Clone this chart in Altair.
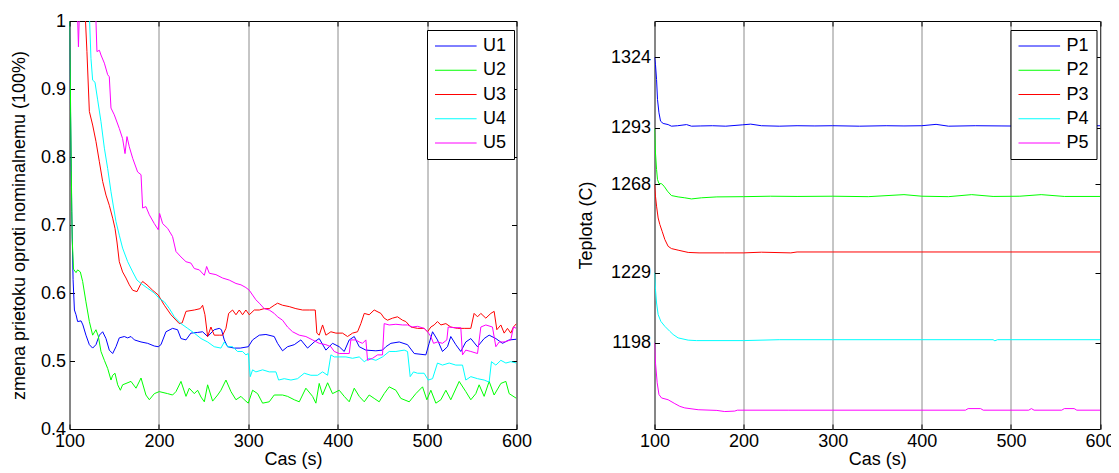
import altair as alt
import pandas as pd

FONT = "Liberation Sans"

# ---------------- left panel data: relative flow U1..U5 ----------------
# None marks a place where the curve leaves the plot through the top (value above 1)
u_names = ["U1", "U2", "U3", "U4", "U5"]
p_names = ["P1", "P2", "P3", "P4", "P5"]
colors = ["#0000ff", "#00ff00", "#ff0000", "#00ffff", "#ff00ff"]

u1_t = [100, 101, 102.5, 104, 105.5, 107.3, 109.1, 112.9, 115, 118.4, 122.2, 125.9, 129.6, 133.4, 137.1, 140.8,
        144.5, 148.3, 152, 155.7, 161.3, 165, 168.8, 172.6, 180, 187.4, 194.9, 199.3, 202.3, 207.9, 215.3, 220.9,
        224.7, 230.3, 235.8, 243.3, 248.9, 254.5, 261.9, 267.5, 270, 273.1, 276.8, 284.3, 291, 300, 304.8, 312.3,
        319.7, 329, 332.7, 338.3, 343.9, 351.4, 358.8, 366.3, 373.7, 379.3, 386.8, 394.2, 401.7, 407.3, 412.9,
        418.5, 424.1, 431.5, 442.7, 450.1, 453.9, 459.5, 468.8, 478.1, 485.6, 498.6, 502.3, 506.1, 511.6, 517.2,
        522.8, 526.5, 532.1, 537.7, 543.3, 548.9, 556.3, 563.8, 569.4, 576.9, 584.3, 591.8, 600]
u1_v = [1.0, 0.88, 0.72, 0.62, 0.575, 0.568, 0.558, 0.559, 0.553, 0.538, 0.524, 0.519, 0.524, 0.538, 0.543, 0.533,
        0.516, 0.511, 0.521, 0.534, 0.536, 0.534, 0.536, 0.531, 0.528, 0.526, 0.522, 0.521, 0.524, 0.543, 0.548,
        0.546, 0.533, 0.531, 0.541, 0.542, 0.543, 0.536, 0.546, 0.548, 0.546, 0.531, 0.521, 0.519, 0.519, 0.521,
        0.531, 0.538, 0.539, 0.536, 0.526, 0.515, 0.521, 0.524, 0.531, 0.519, 0.528, 0.533, 0.516, 0.526, 0.521,
        0.514, 0.531, 0.536, 0.521, 0.516, 0.515, 0.516, 0.521, 0.526, 0.528, 0.524, 0.511, 0.509, 0.526, 0.543,
        0.531, 0.514, 0.521, 0.536, 0.524, 0.514, 0.528, 0.533, 0.521, 0.533, 0.538, 0.533, 0.526, 0.531, 0.532]

u2_t = [100, 101, 102, 103, 104.5, 107.3, 109.1, 112.1, 114.7, 118.4, 122.2, 125.9, 129.6, 132.3, 135.2, 139,
        142.7, 146.4, 148.3, 150.9, 153.9, 156.9, 159.4, 163.2, 168.8, 174.4, 180, 185.5, 189.3, 194.9, 200.4,
        209.8, 215.3, 219.1, 224.7, 230.3, 234, 239.6, 243.3, 247.1, 250.8, 254.5, 260.1, 265.7, 269.4, 275,
        280.6, 286.2, 291.8, 295.5, 300, 304.8, 310.4, 316, 323.4, 329, 338.3, 343.9, 351.4, 357, 364.4, 371.9,
        375.6, 379.3, 383.1, 388.7, 394.2, 401.7, 407.3, 412.9, 418.5, 424.1, 429.7, 435.2, 440.8, 446.4, 452,
        457.6, 465.1, 470.6, 480, 487.4, 494.9, 499.7, 504.2, 509.8, 515.4, 521, 526.5, 535.9, 543.3, 548.9,
        554.5, 558.2, 563.8, 569.4, 575, 582.5, 588.1, 591.8, 600]
u2_v = [1.0, 0.9, 0.78, 0.68, 0.635, 0.63, 0.634, 0.631, 0.617, 0.587, 0.558, 0.538, 0.546, 0.536, 0.514, 0.501,
        0.489, 0.472, 0.479, 0.482, 0.465, 0.457, 0.465, 0.467, 0.470, 0.46, 0.475, 0.45, 0.443, 0.452, 0.455,
        0.452, 0.45, 0.455, 0.47, 0.448, 0.46, 0.452, 0.457, 0.447, 0.44, 0.465, 0.441, 0.45, 0.457, 0.472,
        0.455, 0.443, 0.448, 0.443, 0.438, 0.457, 0.452, 0.438, 0.44, 0.45, 0.45, 0.448, 0.443, 0.44, 0.46, 0.448,
        0.438, 0.467, 0.45, 0.468, 0.452, 0.457, 0.448, 0.44, 0.46, 0.448, 0.44, 0.45, 0.445, 0.44, 0.452,
        0.462, 0.457, 0.445, 0.44, 0.452, 0.462, 0.443, 0.457, 0.438, 0.443, 0.457, 0.443, 0.47, 0.455, 0.443,
        0.452, 0.465, 0.448, 0.47, 0.45, 0.467, 0.47, 0.452, 0.445]

u3_t = [117.9, 119.5, 122.2, 125.9, 129.6, 133.4, 137.1, 140.8, 144.5, 148.3, 150.9, 153.1, 155.7, 159.4,
        163.2, 166.9, 170.7, 175.5, 179.2, 181.8, 186.7, 193, 199.3, 206.1, 213.5, 222.8, 226, 230.3, 239.6, 246.3,
        248.9, 251.5, 254.5, 258.2, 261.9, 267.5, 271.3, 275, 278, 282.4, 286.2, 289.9, 293.6, 297.3, 301.1, 306.7,
        312.3, 317.8, 323.4, 329, 332.7, 338.3, 345.8, 353.2, 360.7, 368.2, 374.9, 376.7, 379.3, 383.1, 386.8,
        392.4, 398, 405.4, 411, 416.6, 422.2, 425.9, 429.7, 435.2, 440.8, 448.3, 452, 455.7, 461.3, 466.9, 472.5,
        476.2, 481.8, 489.3, 496.7, 500.5, 504.2, 507.9, 511.6, 515.4, 521, 526.5, 534, 541.5, 548.9, 552.6,
        556.4, 560.1, 565.7, 571.3, 575, 578, 582.5, 586.2, 589.9, 593.6, 596.6, 600]
u3_v = [1.0, 0.955, 0.867, 0.847, 0.823, 0.793, 0.764, 0.744, 0.729, 0.71, 0.695, 0.675, 0.646, 0.631,
        0.622, 0.612, 0.604, 0.602, 0.612, 0.617, 0.612, 0.604, 0.597, 0.582, 0.568, 0.555, 0.556, 0.573, 0.575,
        0.577, 0.582, 0.568, 0.536, 0.55, 0.538, 0.538, 0.538, 0.548, 0.57, 0.575, 0.568, 0.575, 0.568, 0.575,
        0.568, 0.575, 0.575, 0.577, 0.577, 0.582, 0.585, 0.582, 0.58, 0.577, 0.575, 0.575, 0.575, 0.541, 0.538,
        0.553, 0.538, 0.543, 0.541, 0.541, 0.536, 0.541, 0.543, 0.555, 0.57, 0.568, 0.575, 0.57, 0.563, 0.56,
        0.563, 0.565, 0.56, 0.558, 0.55, 0.548, 0.548, 0.543, 0.55, 0.553, 0.558, 0.553, 0.555, 0.55, 0.548,
        0.548, 0.548, 0.57, 0.565, 0.57, 0.563, 0.57, 0.573, 0.546, 0.553, 0.541, 0.548, 0.541, 0.55, 0.555]

u4_t = [122.5, 124, 125.9, 128.5, 131.5, 135.2, 139, 142.7, 146.4, 149.4, 152, 155.7, 159.4, 165.1,
        170.7, 175.5, 180, 187.4, 194.9, 200.4, 206.1, 211.7, 217.3, 224.7, 232.2, 239.6, 247.1, 254.5, 261.9,
        269.4, 273.1, 276.8, 282.4, 288, 293.6, 297.3, 300, 302.2, 304.8, 308.5, 316, 323.4, 330.9, 333.9, 340.2,
        347.7, 355.1, 362.6, 370, 377.5, 383.1, 388.7, 392.4, 396.1, 401.7, 409.2, 416.6, 424.1, 429.7, 435.2,
        442.7, 450.1, 457.6, 465.1, 474.4, 478.1, 481.1, 484.8, 489.3, 496.7, 501.2, 506.1, 511.6, 517.2, 524.7,
        532.1, 539.6, 543.3, 548.9, 556.4, 563.8, 569.4, 572, 576.9, 582.5, 588.1, 593.6, 600]
u4_v = [1.0, 0.945, 0.913, 0.91, 0.884, 0.852, 0.813, 0.783, 0.749, 0.725, 0.705, 0.685, 0.666, 0.646,
        0.631, 0.619, 0.614, 0.607, 0.6, 0.592, 0.587, 0.577, 0.565, 0.555, 0.548, 0.541, 0.533, 0.528, 0.521,
        0.519, 0.528, 0.521, 0.521, 0.514, 0.514, 0.509, 0.511, 0.477, 0.487, 0.484, 0.487, 0.484, 0.484, 0.472,
        0.474, 0.472, 0.474, 0.482, 0.479, 0.479, 0.484, 0.479, 0.509, 0.506, 0.506, 0.506, 0.504, 0.506, 0.499,
        0.504, 0.501, 0.506, 0.514, 0.514, 0.516, 0.514, 0.477, 0.484, 0.482, 0.482, 0.472, 0.474, 0.497, 0.494,
        0.497, 0.494, 0.494, 0.472, 0.477, 0.474, 0.472, 0.469, 0.499, 0.494, 0.501, 0.497, 0.499, 0.497]

u5_t = [100, 100.6, None, 109.2, 110, 110.8, None, 129.6, 130.7, 133.4, 135.2, 139, 142.7, 144.5, 146.4, 150.1,
        155.7, 159.4, 162.1, 164.3, 166.9, 170.7, 176.2, 180, 181.8, 185.5, 189.3, 194.9, 199.3, 200.8, 204.2,
        209.8, 215.3, 219.1, 224.7, 230.3, 235.8, 239.6, 245.2, 250.8, 253.4, 256.4, 263.8, 271.3, 278.7, 286.2,
        291.8, 297.3, 301.1, 304.8, 308.5, 312.3, 317.8, 323.4, 329, 332.7, 338.3, 343.9, 349.5, 357, 364.4, 371.9,
        379.3, 386.8, 392.4, 396.1, 401.7, 412.9, 414.7, 420.3, 424.1, 427.8, 431.5, 433.4, 439, 444.6, 450.1,
        452, 457.6, 465.1, 472.5, 478.1, 483.7, 489.3, 496.7, 500.5, 504.2, 507.2, 511.6, 517.2, 522.1, 523.6,
        530.3, 537.7, 539.6, 543.3, 548.9, 556.4, 560.1, 565.7, 573.1, 576.9, 580.6, 586.2, 593.6, 596.6, 600]
u5_v = [1.0, 1.0, None, 1.0, 0.962, 1.0, None, 1.0, 0.955, 0.957, 0.95, 0.938, 0.921, 0.918, 0.872, 0.862,
        0.842, 0.827, 0.805, 0.83, 0.815, 0.798, 0.778, 0.774, 0.725, 0.727, 0.715, 0.702, 0.693, 0.717, 0.702,
        0.695, 0.683, 0.661, 0.653, 0.646, 0.644, 0.636, 0.634, 0.626, 0.639, 0.629, 0.627, 0.622, 0.619, 0.614,
        0.612, 0.608, 0.604, 0.597, 0.59, 0.585, 0.577, 0.575, 0.57, 0.565, 0.56, 0.55, 0.543, 0.538, 0.536, 0.531,
        0.526, 0.524, 0.521, 0.514, 0.511, 0.511, 0.531, 0.531, 0.528, 0.526, 0.531, 0.501, 0.504, 0.509, 0.509,
        0.555, 0.553, 0.554, 0.553, 0.553, 0.55, 0.551, 0.548, 0.543, 0.536, 0.526, 0.528, 0.526, 0.531, 0.55,
        0.549, 0.549, 0.509, 0.516, 0.514, 0.511, 0.55, 0.553, 0.55, 0.521, 0.528, 0.528, 0.531, 0.55, 0.548]

# ---------------- right panel data: temperatures P1..P5 ----------------
p1_t = [100, 101.1, 102.3, 103.4, 105, 106.8, 109.7, 115.3, 119, 126, 136, 141.5, 152, 165, 180, 199, 208, 220,
        240, 260, 280, 300, 330, 360, 380, 400, 416, 430, 460, 490, 520, 560, 600]
p1_v = [1324, 1320.8, 1314.2, 1305.3, 1299.5, 1295.8, 1294.8, 1294.3, 1293.6, 1293.8, 1294.3, 1293.6, 1293.7,
        1293.8, 1293.6, 1294.2, 1294.5, 1293.8, 1293.6, 1293.8, 1293.7, 1293.8, 1293.6, 1293.8, 1293.7, 1293.8,
        1294.4, 1293.6, 1293.8, 1293.7, 1293.6, 1293.7, 1293.8]
p2_t = [100, 101.1, 102.3, 103.4, 105, 107.9, 110.8, 114.6, 119, 126.5, 134, 141.5, 152.7, 170, 200, 230, 260,
        300, 340, 380, 400, 430, 456, 480, 510, 534, 560, 600]
p2_v = [1292.5, 1281.8, 1274.5, 1270, 1268.3, 1268.2, 1267.1, 1264.9, 1263, 1262.4, 1262, 1261.5, 1262, 1262.4,
        1262.5, 1262.7, 1262.6, 1262.7, 1262.5, 1263.4, 1262.7, 1262.5, 1263.4, 1262.6, 1262.7, 1263.4, 1262.6,
        1262.6]
p3_t = [100, 101.1, 102.3, 104.1, 106, 108.6, 111.6, 115.3, 119, 126.5, 137.8, 150, 178.8, 200, 220, 253, 260,
        300, 400, 500, 600]
p3_v = [1267.8, 1262.7, 1258.3, 1253.1, 1250.2, 1247.2, 1243.6, 1240.6, 1239.6, 1238.9, 1237.9, 1237.7, 1237.7,
        1237.7, 1238, 1237.7, 1238.1, 1238.1, 1238.1, 1238.1, 1238.1]
p4_t = [100, 101.1, 102.3, 104.1, 107.1, 111.6, 117.2, 120.9, 126.5, 137.8, 147, 200, 240, 300, 400, 480, 482,
        485, 600]
p4_v = [1228.9, 1221.5, 1215.6, 1210.5, 1207.5, 1205.3, 1203.1, 1201.7, 1200.2, 1199.2, 1199, 1199, 1199.4,
        1199.4, 1199.4, 1199.4, 1198.9, 1199.4, 1199.4]
p5_t = [100, 101.1, 103, 105, 107.9, 115.3, 122.8, 128.4, 134, 149, 170, 178.8, 190, 193, 250, 300, 400, 449,
        452, 466, 469, 520, 523, 526, 557, 560, 571, 574, 600]
p5_v = [1198, 1189.2, 1180.4, 1175.2, 1173.7, 1172.9, 1171.2, 1170, 1169.3, 1168.5, 1168.2, 1167.7, 1167.9,
        1168.3, 1168.3, 1168.3, 1168.3, 1168.3, 1169, 1169, 1168.3, 1168.3, 1169, 1168.3, 1168.3, 1169, 1169,
        1168.3, 1168.3]

x_ticks = [100, 200, 300, 400, 500, 600]
u_ticks = [0.4, 0.5, 0.6, 0.7, 0.8, 0.9, 1.0]
p_ticks = [1198, 1229, 1268, 1293, 1324]


def frame(names, ts, vs):
    rows = []
    for n, t, v in zip(names, ts, vs):
        seg = 0
        for a, b in zip(t, v):
            if a is None or b is None:
                seg += 1
                continue
            rows.append({"series": n, "seg": f"{n}-{seg}", "t": a, "v": b})
    return pd.DataFrame(rows)


df_u = frame(u_names, [u1_t, u2_t, u3_t, u4_t, u5_t], [u1_v, u2_v, u3_v, u4_v, u5_v])
df_p = frame(p_names, [p1_t, p2_t, p3_t, p4_t, p5_t], [p1_v, p2_v, p3_v, p4_v, p5_v])

TICK = 5


def panel(df, names, ydom, yticks, yfmt, ytitle, tpad, width, legx):
    xs = alt.Scale(domain=[100, 600], nice=False)
    ys = alt.Scale(domain=ydom, nice=False, zero=False)
    legend = alt.Legend(title=None, orient="none", legendX=legx, legendY=9,
                        symbolType="M-1,0H4.2", symbolSize=256, symbolStrokeWidth=1,
                        labelFont=FONT, labelFontSize=18, labelColor="black", labelOffset=31,
                        padding=7, rowPadding=6.25, strokeColor="black", fillColor="white")
    # axes are pulled into the plot by the tick length so that the ticks point inward
    lines = alt.Chart(df).mark_line(clip=True, strokeWidth=1).encode(
        x=alt.X("t:Q", scale=xs,
                axis=alt.Axis(values=x_ticks, grid=True, title="Cas (s)", format="d", domain=False,
                              labelFlush=False, offset=-TICK, tickSize=TICK, labelPadding=3.2,
                              titlePadding=0)),
        y=alt.Y("v:Q", scale=ys,
                axis=alt.Axis(values=yticks, grid=False, title=ytitle, format=yfmt, domain=False,
                              labelFlush=False, offset=-TICK, tickSize=TICK, labelPadding=4,
                              titlePadding=tpad)),
        color=alt.Color("series:N", scale=alt.Scale(domain=names, range=colors), legend=legend),
        detail="seg:N",
        order="t:Q",
    )
    mirror = alt.Chart(df).mark_line(opacity=0).encode(
        x=alt.X("t:Q", scale=xs,
                axis=alt.Axis(values=x_ticks, orient="top", labels=False, grid=False, title=None,
                              offset=-TICK, tickSize=TICK, domain=False)),
        y=alt.Y("v:Q", scale=ys,
                axis=alt.Axis(values=yticks, orient="right", labels=False, grid=False, title=None,
                              offset=-TICK, tickSize=TICK, domain=False)),
        detail="seg:N",
    )
    return alt.layer(lines, mirror).resolve_scale(x="independent", y="independent").properties(
        width=width, height=408)


left = panel(df_u, u_names, [0.4, 1.0], u_ticks, ".1~f",
             "zmena prietoku oproti nominalnemu (100%)", 12, 447, 357.5)
right = panel(df_p, p_names, [1160, 1340], p_ticks, "d", "Teplota (C)", 15, 445.5, 356)

chart = alt.hconcat(left, right, spacing=44).resolve_scale(color="independent").resolve_legend(
    color="independent"
).properties(
    padding={"left": 1.5, "top": 3, "right": -6, "bottom": 0}
).configure_view(
    stroke="black", strokeWidth=1
).configure_axis(
    labelFont=FONT, titleFont=FONT, labelFontSize=18, titleFontSize=18, titleFontWeight="normal",
    labelColor="black", titleColor="black", domainColor="black", tickColor="black",
    gridColor="#8c8c8c", gridWidth=1,
)

chart.save("out.html", embed_options={"renderer": "svg", "actions": False})
